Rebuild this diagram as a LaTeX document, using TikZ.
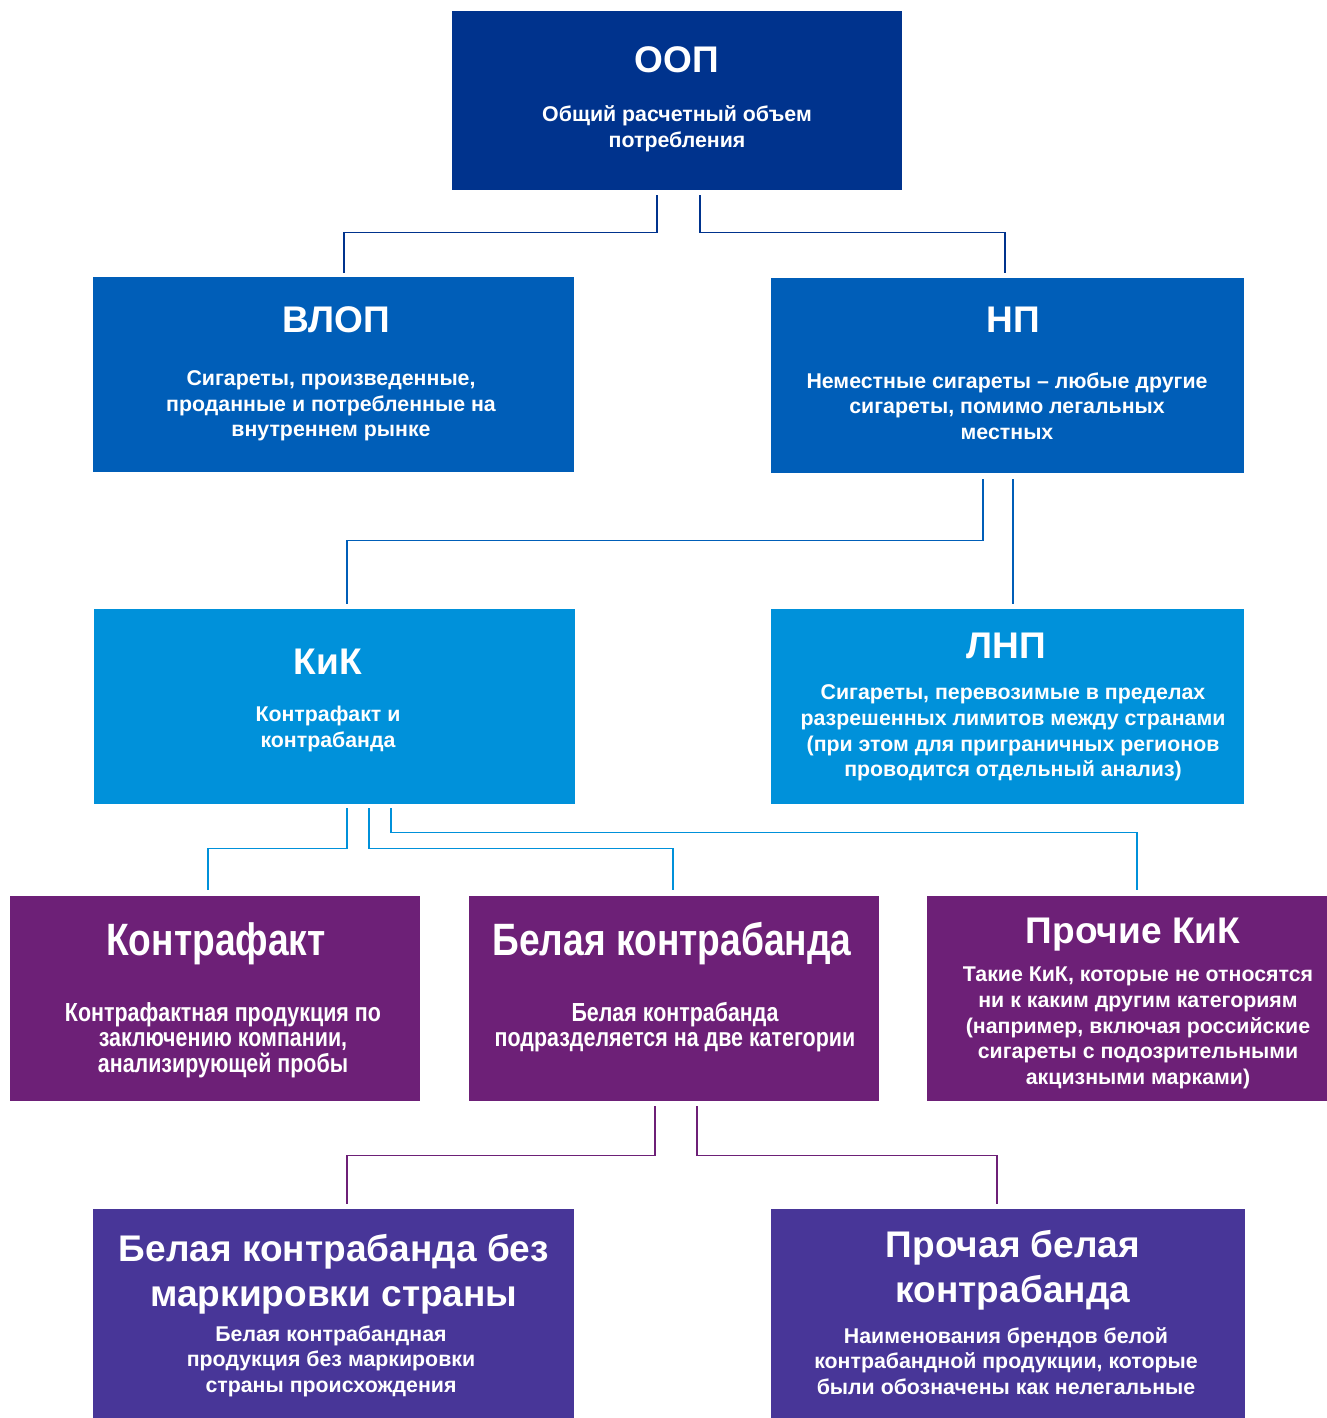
\documentclass[tikz,border=0pt]{standalone}
\usepackage{fontspec}
\setmainfont{Liberation Sans}
\newfontfamily\narrowfont[FakeStretch=0.82]{Liberation Sans}
\usetikzlibrary{calc}
\definecolor{kpmgdark}{HTML}{00338D}
\definecolor{kpmgmid}{HTML}{005EB8}
\definecolor{kpmglight}{HTML}{0091DA}
\definecolor{kpmgpurple}{HTML}{6D2077}
\definecolor{kpmgviolet}{HTML}{483698}

\begin{document}
\begin{tikzpicture}[x=0.75pt, y=-0.75pt,
                line cap=butt, line join=miter,
                blk/.style n args={3}{fill=#1, minimum width=#2*0.75pt,
                    minimum height=#3*0.75pt, inner sep=0pt},
                ttl/.style={text=white, inner sep=0pt, font=\bfseries\fontsize{27.8}{33.8}\selectfont},
                txt/.style={text=white, align=center, inner sep=0pt,
                    font=\bfseries\fontsize{16}{19.2}\selectfont},
                narrow/.style={font=\narrowfont\bfseries\fontsize{#1}{19.2}\selectfont},
                lnk/.style={draw=#1, line width=1.1pt}]
                \useasboundingbox (0,0) rectangle (1327,1418);

                % boxes
                \node[blk={kpmgdark}{450}{179}]   (oop)  at (677,100.5)   {};
                \node[blk={kpmgmid}{481}{195}]    (vlop) at (333.5,374.5) {};
                \node[blk={kpmgmid}{473}{195}]    (np)   at (1007.5,375.5) {};
                \node[blk={kpmglight}{481}{195}]  (kik)  at (334.5,706.5) {};
                \node[blk={kpmglight}{473}{195}]  (lnp)  at (1007.5,706.5) {};
                \node[blk={kpmgpurple}{410}{205}] (kf)   at (215,998.5)   {};
                \node[blk={kpmgpurple}{410}{205}] (bk)   at (674,998.5)   {};
                \node[blk={kpmgpurple}{400}{205}] (pk)   at (1127,998.5)  {};
                \node[blk={kpmgviolet}{481}{209}] (bbm)  at (333.5,1313.5) {};
                \node[blk={kpmgviolet}{474}{209}] (pbk)  at (1008,1313.5) {};

                % titles and texts
                \node[ttl] (oop-t) at (677,60) {ООП};
                \node[txt] (oop-d) at (677,129) {Общий расчетный объем\\потребления};

                \node[ttl] (vlop-t) at (336,320) {ВЛОП};
                \node[txt] (vlop-d) at (331,406) {Сигареты, произведенные,\\проданные и потребленные на\\внутреннем рынке};

                \node[ttl] (np-t) at (1013,320) {НП};
                \node[txt] (np-d) at (1007,406) {Неместные сигареты -- любые другие\\сигареты, помимо легальных\\местных};

                \node[ttl] (kik-t) at (328,662) {КиК};
                \node[txt] (kik-d) at (328,729) {Контрафакт и\\контрабанда};

                \node[ttl] (lnp-t) at (1006,646) {ЛНП};
                \node[txt] (lnp-d) at (1013,733) {Сигареты, перевозимые в пределах\\разрешенных лимитов между странами\\(при этом для приграничных регионов\\проводится отдельный анализ)};

                \node[ttl, narrow=34] (kf-t) at (216,944) {Контрафакт};
                \node[txt, narrow=19.6] (kf-d) at (223,1040) {Контрафактная продукция по\\заключению компании,\\анализирующей пробы};

                \node[ttl, narrow=34] (bk-t) at (672,944) {Белая контрабанда};
                \node[txt, narrow=19.6] (bk-d) at (675,1027) {Белая контрабанда\\подразделяется на две категории};

                \node[ttl] (pk-t) at (1133,935) {Прочие КиК};
                \node[txt] (pk-d) at (1138,1028) {Такие КиК, которые не относятся\\ни к каким другим категориям\\(например, включая российские\\сигареты с подозрительными\\акцизными марками)};

                \node[ttl, align=center] (bbm-t) at (334,1274) {Белая контрабанда без\\маркировки страны};
                \node[txt] (bbm-d) at (331,1361) {Белая контрабандная\\продукция без маркировки\\страны происхождения};

                \node[ttl, align=center] (pbk-t) at (1013,1270) {Прочая белая\\контрабанда};
                \node[txt] (pbk-d) at (1006,1361) {Наименования брендов белой\\контрабандной продукции, которые\\были обозначены как нелегальные};

                % connectors
                \draw[lnk=kpmgdark] ($(oop.south)+(-20,5)$) |- ($(vlop.north)+(10.5,-44)$) -- ($(vlop.north)+(10.5,-4)$);
                \draw[lnk=kpmgdark] ($(oop.south)+(23,5)$) |- ($(np.north)+(-2.5,-45)$) -- ($(np.north)+(-2.5,-5)$);
                \draw[lnk=kpmgmid] ($(np.south)+(-24.5,6)$) |- ($(kik.north)+(12.5,-68)$) -- ($(kik.north)+(12.5,-5)$);
                \draw[lnk=kpmgmid] ($(np.south)+(5.5,6)$) -- ($(lnp.north)+(5.5,-5)$);
                \draw[lnk=kpmglight] ($(kik.south)+(12.5,4)$) |- ($(kf.north)+(-7,-47)$) -- ($(kf.north)+(-7,-6)$);
                \draw[lnk=kpmglight] ($(kik.south)+(34.5,4)$) |- ($(bk.north)+(-1,-47)$) -- ($(bk.north)+(-1,-6)$);
                \draw[lnk=kpmglight] ($(kik.south)+(56.5,4)$) |- ($(pk.north)+(10,-63)$) -- ($(pk.north)+(10,-6)$);
                \draw[lnk=kpmgpurple] ($(bk.south)+(-19,5)$) |- ($(bbm.north)+(13.5,-53)$) -- ($(bbm.north)+(13.5,-5)$);
                \draw[lnk=kpmgpurple] ($(bk.south)+(23,5)$) |- ($(pbk.north)+(-11,-53)$) -- ($(pbk.north)+(-11,-5)$);

\end{tikzpicture}
\end{document}
